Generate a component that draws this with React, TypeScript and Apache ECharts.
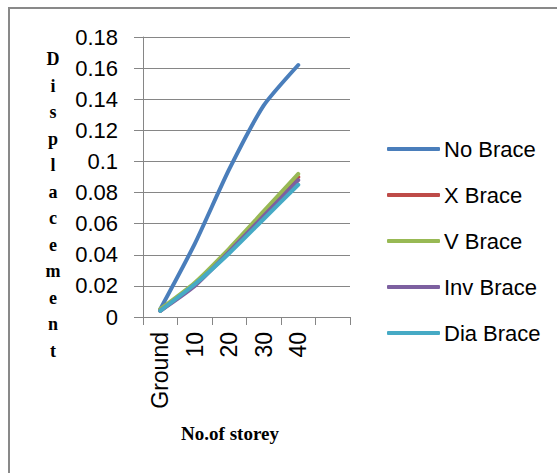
import React, { useEffect, useRef } from "react";
import * as echarts from "echarts";

const storeys = ["Ground", "10", "20", "30", "40", ""];
const seriesNames = ["No Brace", "X Brace", "V Brace", "Inv Brace", "Dia Brace"];
const seriesColors = ["#4A7EBB", "#BE4B48", "#98B954", "#7D60A0", "#46AAC5"];
const noBrace = [0.005, 0.047, 0.095, 0.136, 0.162];
const xBrace = [0.004, 0.021, 0.043, 0.066, 0.09];
const vBrace = [0.005, 0.022, 0.044, 0.068, 0.092];
const invBrace = [0.004, 0.02, 0.042, 0.065, 0.088];
const diaBrace = [0.004, 0.021, 0.041, 0.063, 0.085];
const seriesValues = [noBrace, xBrace, vBrace, invBrace, diaBrace];

const yTitle = "Displacement";
const xTitle = "No.of storey";

const sans = "'Liberation Sans', Arial, sans-serif";
const serif = "'Liberation Serif', 'Times New Roman', serif";

export default function App() {
  const ref = useRef<HTMLDivElement>(null);

  useEffect(() => {
    if (!ref.current) return;
    const chart = echarts.init(ref.current, null, { renderer: "svg" });
    chart.setOption({
      animation: false,
      backgroundColor: "#ffffff",
      grid: { left: 143, right: 207, top: 37, bottom: 156, containLabel: false },
      xAxis: {
        type: "category",
        data: storeys,
        boundaryGap: true,
        axisLine: { lineStyle: { color: "#868686", width: 1 } },
        axisTick: { show: true, length: 8, lineStyle: { color: "#868686" } },
        axisLabel: {
          rotate: 90,
          margin: 15,
          color: "#000",
          fontFamily: sans,
          fontSize: 23,
          interval: 0,
        },
        splitLine: { show: false },
      },
      yAxis: {
        type: "value",
        min: 0,
        max: 0.18,
        interval: 0.02,
        axisLine: { show: true, lineStyle: { color: "#868686", width: 1 } },
        axisTick: { show: true, length: 9, lineStyle: { color: "#868686" } },
        axisLabel: {
          margin: 25,
          color: "#000",
          fontFamily: sans,
          fontSize: 22,
          formatter: (v: number) => String(+v.toFixed(2)),
        },
        splitLine: { show: true, lineStyle: { color: "#868686", width: 1 } },
      },
      legend: {
        orient: "vertical",
        left: 382,
        top: 133,
        itemWidth: 53,
        itemHeight: 4,
        itemGap: 24,
        icon: "roundRect",
        textStyle: {
          fontFamily: sans,
          fontSize: 22,
          lineHeight: 22,
          color: "#000",
          padding: [0, 0, 0, -1],
        },
        data: seriesNames,
      },
      series: seriesNames.map((name, i) => ({
        name,
        type: "line",
        data: seriesValues[i],
        symbol: "none",
        smooth: 0.2,
        color: seriesColors[i],
        lineStyle: { width: 4, color: seriesColors[i], cap: "round", join: "round" },
        itemStyle: { color: seriesColors[i] },
      })),
      graphic: [
        {
          type: "rect",
          shape: { x: 9, y: 8, width: 560, height: 480 },
          style: { fill: "none", stroke: "#898989", lineWidth: 2 },
          silent: true,
        },
        {
          type: "text",
          x: 53,
          y: 46,
          style: {
            text: yTitle.split("").join("\n"),
            fontFamily: serif,
            fontWeight: "bold",
            fontSize: 18,
            lineHeight: 26.5,
            align: "center",
            verticalAlign: "top",
            fill: "#000",
          },
        },
        {
          type: "text",
          x: 230,
          y: 433,
          style: {
            text: xTitle,
            fontFamily: serif,
            fontWeight: "bold",
            fontSize: 19,
            align: "center",
            verticalAlign: "middle",
            fill: "#000",
          },
        },
      ],
    });
    return () => chart.dispose();
  }, []);

  return (
    <div
      ref={ref}
      style={{ position: "fixed", left: 0, top: 0, width: 557, height: 473, background: "#fff" }}
    />
  );
}
